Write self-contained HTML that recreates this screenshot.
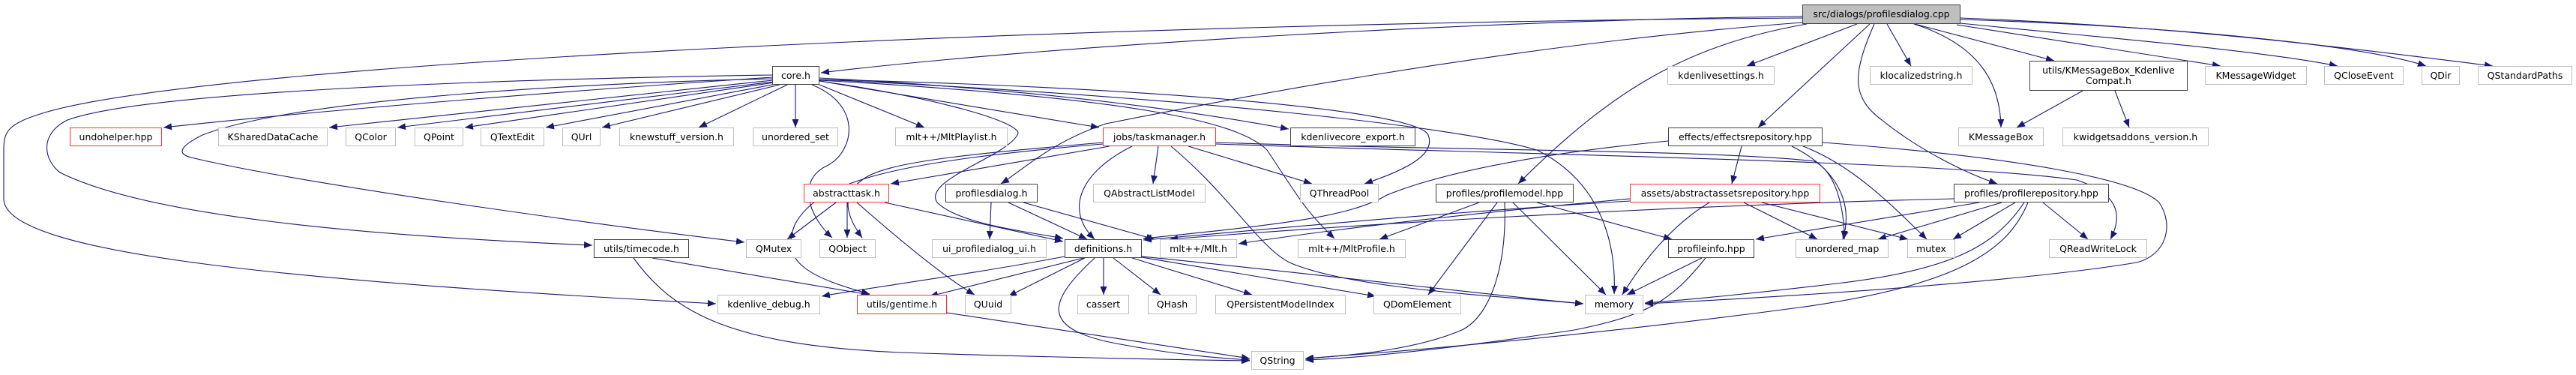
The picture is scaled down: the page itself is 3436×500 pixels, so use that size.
<!DOCTYPE html>
<html><head><meta charset="utf-8">
<style>
html,body{margin:0;padding:0;background:#fff;}
#c{position:relative;width:3436px;height:500px;overflow:hidden;background:#fff;}
svg{position:absolute;left:0;top:0;}
.n{position:absolute;box-sizing:border-box;background:#fff;border:1.5px solid #bfbfbf;font-family:"DejaVu Sans","Liberation Sans",sans-serif;font-size:12.5px;color:#000;display:flex;align-items:center;justify-content:center;text-align:center;line-height:14px;white-space:nowrap;}
.b{border-color:#404040;}
.r{border-color:#ff3030;}
</style></head><body><div id="c">
<svg width="3436" height="500" viewBox="0 0 3436 500">
<defs><marker id="a" markerUnits="userSpaceOnUse" markerWidth="12" markerHeight="9" refX="11" refY="4.5" orient="auto"><path d="M0,0 L11,4.5 L0,9 z" fill="#191970"/></marker></defs>
<g fill="none" stroke="#191970" stroke-width="1.1" marker-end="url(#a)">
<path d="M2404,22 C2000,26 1400,60 1095,97"/>
<path d="M2404,24 C1500,30 300,80 60,150 C10,165 5,175 5,200 L5,265 C5,340 400,375 955,405"/>
<path d="M1030,100 C700,105 200,120 90,160 C50,180 60,215 80,230 C200,290 500,315 790,327"/>
<path d="M1030,105 C800,110 400,130 270,180 C240,195 235,205 255,210 C400,245 800,300 993,323"/>
<path d="M1030,103 C700,125 400,150 218,170"/>
<path d="M1031,107 L439,170"/>
<path d="M1032,109 L530,170"/>
<path d="M1033,110 L620,170"/>
<path d="M1035,112 L728,170"/>
<path d="M1040,113 L803,170"/>
<path d="M1050,113 L932,170"/>
<path d="M1061,113 L1061,170"/>
<path d="M1093,113 L1233,170"/>
<path d="M1093,108 L1466,170"/>
<path d="M1093,104 C1400,120 1600,150 1719,172"/>
<path d="M1083,113 C1150,140 1140,200 1105,220 C1060,240 1080,290 1110,317"/>
<path d="M1093,108 C1250,130 1370,165 1357,180 C1340,210 1230,240 1250,270 C1280,300 1380,310 1418,318"/>
<path d="M1093,106 C1500,115 1890,145 1905,180 C1915,205 1880,225 1820,245"/>
<path d="M1093,106 C1600,130 1950,170 2050,200 C2150,250 2155,350 2153,392"/>
<path d="M1093,107 C1500,130 1650,160 1690,200 C1730,260 1740,280 1780,318"/>
<path d="M2404,30 C2000,60 1600,140 1475,165 C1400,190 1360,230 1335,245"/>
<path d="M2410,32 C2250,60 2150,120 2025,245"/>
<path d="M2477,32 L2330,88"/>
<path d="M2494,32 L2345,170"/>
<path d="M2517,32 L2549,88"/>
<path d="M2500,32 C2470,100 2470,130 2510,160 C2560,200 2620,230 2664,245"/>
<path d="M2553,32 C2640,60 2668,110 2669,170"/>
<path d="M2554,32 L2740,81"/>
<path d="M2610,33 L2962,88"/>
<path d="M2615,31 C2800,50 3000,65 3118,88"/>
<path d="M2615,26 C2900,35 3150,60 3236,88"/>
<path d="M2615,24 C2900,35 3100,60 3325,88"/>
<path d="M2778,121 L2690,170"/>
<path d="M2821,121 L2840,170"/>
<path d="M1480,195 L1188,245"/>
<path d="M1471,190 C1300,205 1180,215 1150,240 C1120,260 1130,290 1150,317"/>
<path d="M1471,192 C1200,215 1090,240 1060,300 C1040,350 1080,370 1160,392"/>
<path d="M1545,195 L1538,245"/>
<path d="M1585,195 L1750,245"/>
<path d="M1510,195 C1440,230 1420,280 1460,319"/>
<path d="M1562,195 C1640,260 1680,330 1720,350 C1800,385 2000,395 2112,405"/>
<path d="M1622,190 C1900,200 2300,200 2420,215 C2450,230 2460,280 2460,319"/>
<path d="M1622,192 C2000,205 2600,215 2770,240 C2830,260 2830,290 2815,319"/>
<path d="M1115,270 L1050,319"/>
<path d="M1130,270 L1130,317"/>
<path d="M1143,270 C1200,320 1260,370 1300,393"/>
<path d="M1180,270 L1418,322"/>
<path d="M1322,270 L1320,319"/>
<path d="M1345,270 L1450,319"/>
<path d="M1365,270 L1540,319"/>
<path d="M1445,344 L1240,395"/>
<path d="M1447,344 L1345,395"/>
<path d="M1420,342 C1300,365 1150,385 1096,395"/>
<path d="M1472,344 L1472,393"/>
<path d="M1485,344 L1548,393"/>
<path d="M1510,344 L1670,393"/>
<path d="M1523,343 C1650,365 1780,385 1835,395"/>
<path d="M1523,342 C1800,370 2000,395 2112,405"/>
<path d="M1460,344 C1400,400 1380,440 1500,460 C1580,475 1640,478 1667,480"/>
<path d="M870,344 L1160,393"/>
<path d="M845,344 C900,420 980,460 1200,470 C1450,478 1600,480 1667,481"/>
<path d="M1263,417 L1667,478"/>
<path d="M2174,265 C1900,290 1750,310 1652,325"/>
<path d="M2225,188 C2000,210 1900,240 1850,260 C1800,290 1700,300 1525,318"/>
<path d="M2174,268 C1900,285 1700,305 1525,320"/>
<path d="M2606,265 C2200,275 1800,300 1560,319"/>
<path d="M1973,270 L1840,319"/>
<path d="M1997,270 L1905,393"/>
<path d="M2007,270 C2010,350 1990,420 1950,440 C1880,470 1780,475 1741,478"/>
<path d="M2018,270 L2142,393"/>
<path d="M2050,270 L2230,319"/>
<path d="M2280,270 C2230,300 2190,350 2164,393"/>
<path d="M2326,270 L2424,319"/>
<path d="M2350,270 L2545,319"/>
<path d="M2323,195 L2310,245"/>
<path d="M2390,195 C2460,230 2470,280 2458,319"/>
<path d="M2405,195 C2470,220 2520,270 2570,319"/>
<path d="M2431,190 C2700,210 2850,240 2880,270 C2900,300 2890,340 2850,350 C2700,375 2400,395 2194,405"/>
<path d="M2640,270 L2342,319"/>
<path d="M2670,270 L2505,319"/>
<path d="M2688,270 L2605,319"/>
<path d="M2725,270 L2785,319"/>
<path d="M2700,270 C2660,330 2600,360 2450,378 C2350,390 2250,400 2194,404"/>
<path d="M2705,270 C2680,330 2620,380 2400,410 C2100,450 1850,470 1741,478"/>
<path d="M2270,344 L2170,393"/>
<path d="M2275,344 C2230,400 2200,420 2100,440 C1900,470 1800,478 1741,480"/>
</g></svg>

<div class="n b" style="left:2404px;top:6px;width:211px;height:26px;background:#bfbfbf;">src/dialogs/profilesdialog.cpp</div>

<div class="n b" style="left:1030px;top:88px;width:63px;height:25px;">core.h</div>
<div class="n" style="left:2224px;top:88px;width:143px;height:25px;">kdenlivesettings.h</div>
<div class="n" style="left:2494px;top:88px;width:137px;height:25px;">klocalizedstring.h</div>
<div class="n b" style="left:2707px;top:81px;width:211px;height:40px;">utils/KMessageBox_Kdenlive<br>Compat.h</div>
<div class="n" style="left:2941px;top:88px;width:136px;height:25px;">KMessageWidget</div>
<div class="n" style="left:3100px;top:88px;width:106px;height:25px;">QCloseEvent</div>
<div class="n" style="left:3230px;top:88px;width:51px;height:25px;">QDir</div>
<div class="n" style="left:3305px;top:88px;width:126px;height:25px;">QStandardPaths</div>

<div class="n r" style="left:93px;top:170px;width:123px;height:25px;">undohelper.hpp</div>
<div class="n" style="left:291px;top:170px;width:146px;height:25px;">KSharedDataCache</div>
<div class="n" style="left:461px;top:170px;width:67px;height:25px;">QColor</div>
<div class="n" style="left:553px;top:170px;width:65px;height:25px;">QPoint</div>
<div class="n" style="left:641px;top:170px;width:85px;height:25px;">QTextEdit</div>
<div class="n" style="left:750px;top:170px;width:51px;height:25px;">QUrl</div>
<div class="n" style="left:826px;top:170px;width:153px;height:25px;">knewstuff_version.h</div>
<div class="n" style="left:1004px;top:170px;width:114px;height:25px;">unordered_set</div>
<div class="n" style="left:1194px;top:170px;width:150px;height:25px;">mlt++/MltPlaylist.h</div>
<div class="n r" style="left:1471px;top:170px;width:151px;height:25px;">jobs/taskmanager.h</div>
<div class="n b" style="left:1721px;top:170px;width:167px;height:25px;">kdenlivecore_export.h</div>
<div class="n b" style="left:2225px;top:170px;width:206px;height:25px;">effects/effectsrepository.hpp</div>
<div class="n" style="left:2612px;top:170px;width:114px;height:25px;">KMessageBox</div>
<div class="n" style="left:2751px;top:170px;width:195px;height:25px;">kwidgetsaddons_version.h</div>

<div class="n r" style="left:1072px;top:245px;width:114px;height:25px;">abstracttask.h</div>
<div class="n b" style="left:1261px;top:245px;width:123px;height:25px;">profilesdialog.h</div>
<div class="n" style="left:1458px;top:245px;width:150px;height:25px;">QAbstractListModel</div>
<div class="n" style="left:1734px;top:245px;width:105px;height:25px;">QThreadPool</div>
<div class="n b" style="left:1915px;top:245px;width:184px;height:25px;">profiles/profilemodel.hpp</div>
<div class="n r" style="left:2174px;top:245px;width:254px;height:25px;">assets/abstractassetsrepository.hpp</div>
<div class="n b" style="left:2606px;top:245px;width:207px;height:25px;">profiles/profilerepository.hpp</div>

<div class="n b" style="left:792px;top:319px;width:127px;height:25px;">utils/timecode.h</div>
<div class="n" style="left:995px;top:319px;width:74px;height:25px;">QMutex</div>
<div class="n" style="left:1093px;top:319px;width:75px;height:25px;">QObject</div>
<div class="n" style="left:1243px;top:319px;width:153px;height:25px;">ui_profiledialog_ui.h</div>
<div class="n b" style="left:1420px;top:319px;width:103px;height:25px;">definitions.h</div>
<div class="n" style="left:1547px;top:319px;width:103px;height:25px;">mlt++/Mlt.h</div>
<div class="n" style="left:1731px;top:319px;width:144px;height:25px;">mlt++/MltProfile.h</div>
<div class="n b" style="left:2225px;top:319px;width:115px;height:25px;">profileinfo.hpp</div>
<div class="n" style="left:2395px;top:319px;width:124px;height:25px;">unordered_map</div>
<div class="n" style="left:2544px;top:319px;width:64px;height:25px;">mutex</div>
<div class="n" style="left:2733px;top:319px;width:131px;height:25px;">QReadWriteLock</div>

<div class="n" style="left:957px;top:393px;width:137px;height:26px;">kdenlive_debug.h</div>
<div class="n r" style="left:1143px;top:393px;width:120px;height:26px;">utils/gentime.h</div>
<div class="n" style="left:1287px;top:393px;width:62px;height:26px;">QUuid</div>
<div class="n" style="left:1437px;top:393px;width:69px;height:26px;">cassert</div>
<div class="n" style="left:1531px;top:393px;width:65px;height:26px;">QHash</div>
<div class="n" style="left:1621px;top:393px;width:174px;height:26px;">QPersistentModelIndex</div>
<div class="n" style="left:1832px;top:393px;width:117px;height:26px;">QDomElement</div>
<div class="n" style="left:2114px;top:393px;width:78px;height:26px;">memory</div>

<div class="n" style="left:1669px;top:468px;width:70px;height:25px;">QString</div>
</div></body></html>
